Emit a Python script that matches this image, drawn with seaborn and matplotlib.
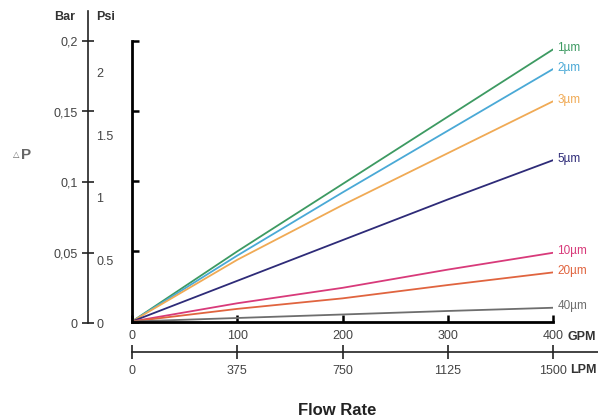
import numpy as np
import pandas as pd
import matplotlib
matplotlib.use("Agg")
import matplotlib.pyplot as plt
import seaborn as sns

# Data (pressure drop in bar vs flow rate in GPM)
gpm = [0, 100, 200, 300, 400]
dp_1um = [0, 0.050, 0.098, 0.146, 0.194]
dp_2um = [0, 0.047, 0.092, 0.136, 0.180]
dp_3um = [0, 0.044, 0.083, 0.120, 0.157]
dp_5um = [0, 0.029, 0.058, 0.087, 0.115]
dp_10um = [0, 0.013, 0.024, 0.037, 0.049]
dp_20um = [0, 0.009, 0.0165, 0.026, 0.035]
dp_40um = [0, 0.0025, 0.005, 0.0075, 0.0098]

grades = ["1µm", "2µm", "3µm", "5µm", "10µm", "20µm", "40µm"]
series = [dp_1um, dp_2um, dp_3um, dp_5um, dp_10um, dp_20um, dp_40um]
colors = ["#3d9a62", "#4aa9d6", "#f0aa55", "#2e2b78", "#d83a7a", "#e0643f", "#6e6e6e"]

bar_ticks = [0, 0.05, 0.1, 0.15, 0.2]
bar_labels = ["0", "0,05", "0,1", "0,15", "0,2"]
psi_ticks = [0, 0.5, 1, 1.5, 2]
psi_labels = ["0", "0.5", "1", "1.5", "2"]
gpm_ticks = [0, 100, 200, 300, 400]
lpm_ticks = [0, 375, 750, 1125, 1500]
psi_per_bar = 11.28  # as drawn on the scale

df = pd.DataFrame({
    "GPM": gpm * len(grades),
    "dP": np.concatenate(series),
    "grade": np.repeat(grades, len(gpm)),
})

sns.set_theme(style="white")
plt.rcParams["font.family"] = ["Liberation Sans", "DejaVu Sans"]
txt = "#444444"
fs = 9

W, H = 598, 419
fig = plt.figure(figsize=(W / 100, H / 100), dpi=100)

def fx(px):
    return px / W

def fy(py):
    return 1 - py / H

# main plot
ax = fig.add_axes([fx(132), fy(321.5), fx(553 - 132), fy(41) - fy(321.5)])
sns.lineplot(data=df, x="GPM", y="dP", hue="grade", palette=dict(zip(grades, colors)),
             linewidth=1.3, legend=False, ax=ax)
ax.set_xlim(0, 400)
ax.set_ylim(0, 0.2)
for s in ["top", "right"]:
    ax.spines[s].set_visible(False)
for s in ["left", "bottom"]:
    ax.spines[s].set_color("black")
    ax.spines[s].set_linewidth(2)
ax.set_yticks(bar_ticks)
ax.set_yticklabels([])
ax.set_xticks(gpm_ticks)
ax.set_xticklabels([str(v) for v in gpm_ticks])
ax.tick_params(axis="both", direction="in", length=5, width=1.8, color="black",
               left=True, bottom=True)
ax.tick_params(axis="x", pad=6, labelsize=fs, labelcolor=txt)
ax.set_xlabel("")
ax.set_ylabel("")
for g, c, s in zip(grades, colors, series):
    ax.text(404, s[-1] + 0.001, g, color=c, fontsize=8.5, va="center", ha="left",
            clip_on=False)
fig.text(fx(568), fy(337), "GPM", fontsize=fs, weight="bold", color="#333333",
         ha="left", va="center")

# Bar / Psi scale
sc = fig.add_axes([fx(88), fy(323), 0.0001, fy(11) - fy(323)])
ymax_bar = (323 - 11) / 1410
sc.set_ylim(0, ymax_bar)
sc.set_xticks([])
for s in ["top", "right", "bottom"]:
    sc.spines[s].set_visible(False)
sc.spines["left"].set_color("#222222")
sc.spines["left"].set_linewidth(1.2)
sc.set_yticks(bar_ticks)
sc.set_yticklabels(bar_labels)
sc.tick_params(axis="y", direction="inout", length=9, width=1.2, color="#222222",
               labelsize=fs, labelcolor=txt, pad=3, left=True)
ps = sc.twinx()
ps.set_ylim(0, ymax_bar * psi_per_bar)
for s in ["top", "right", "bottom", "left"]:
    ps.spines[s].set_visible(False)
ps.set_yticks(psi_ticks)
ps.set_yticklabels(psi_labels)
ps.tick_params(axis="y", length=0, labelsize=fs, labelcolor=txt, pad=6, right=True)
fig.text(fx(65), fy(17), "Bar", fontsize=fs, weight="bold", color="#333333",
         ha="center", va="center")
fig.text(fx(106), fy(17), "Psi", fontsize=fs, weight="bold", color="#333333",
         ha="center", va="center")
fig.text(fx(16), fy(156), "△", fontsize=6, color="#666666", ha="center", va="center")
fig.text(fx(26), fy(155), "P", fontsize=11, weight="bold", color="#666666",
         ha="center", va="center")

# LPM axis
lp = fig.add_axes([fx(132), fy(352), fx(598 - 132), 0.0001])
lp.set_xlim(0, (598 - 132) / 421 * 1500)
lp.set_yticks([])
for s in ["top", "right", "left"]:
    lp.spines[s].set_visible(False)
lp.spines["bottom"].set_color("#222222")
lp.spines["bottom"].set_linewidth(1.2)
lp.set_xticks(lpm_ticks)
lp.set_xticklabels([str(v) for v in lpm_ticks])
lp.tick_params(axis="x", direction="inout", length=10, width=1.2, color="#222222",
               labelsize=fs, labelcolor=txt, pad=4, bottom=True)
fig.text(fx(570), fy(370), "LPM", fontsize=fs, weight="bold", color="#333333",
         ha="left", va="center")

fig.text(fx(337), fy(410), "Flow Rate", fontsize=12, weight="bold", color="#222222",
         ha="center", va="center")

fig.savefig("out.png", dpi=100)
